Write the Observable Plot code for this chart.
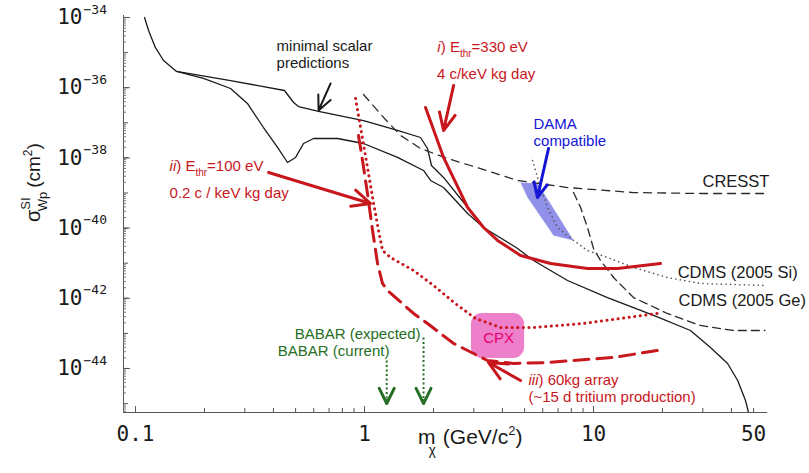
<!DOCTYPE html>
<html><head><meta charset="utf-8">
<script src="https://cdn.jsdelivr.net/npm/d3@7"></script>
<script src="https://cdn.jsdelivr.net/npm/@observablehq/plot@0.6"></script>
<style>body{margin:0;background:#fff;} svg{display:block}</style>
</head><body><div id="chart"></div>
<script>
// ---- data (mass in GeV/c^2, cross-section in cm^2) ----
const massUpper = [0.1095, 0.114, 0.122, 0.1325, 0.151, 0.26, 0.447, 0.49, 0.515, 0.63, 0.99, 1.393, 1.756, 1.884, 1.96, 2.213, 2.82, 3.31, 4.66, 5.47, 7.70, 11.5, 18.3, 26.5, 32.4, 38.5, 42.6, 46.1, 47.5];
const sigmaUpper = [1e-34, 4.27e-35, 1.40e-35, 5.96e-36, 2.90e-36, 1.60e-36, 8.32e-37, 3.79e-37, 2.91e-37, 2.10e-37, 1.16e-37, 6.04e-38, 3.81e-38, 1.85e-38, 6.07e-39, 2.77e-39, 3.86e-40, 1.04e-40, 2.62e-41, 1.19e-41, 3.21e-42, 1.05e-42, 3.24e-43, 1.21e-43, 3.97e-44, 1.39e-44, 4.55e-45, 1.22e-45, 5.57e-46];
const massLower = [0.151, 0.198, 0.26, 0.308, 0.362, 0.417, 0.461, 0.50, 0.5415, 0.599, 0.762, 0.99, 1.393, 1.81, 1.942, 2.213, 2.82, 3.31];
const sigmaLower = [2.90e-36, 1.83e-36, 9.48e-37, 3.55e-37, 7.34e-38, 1.98e-38, 7.39e-39, 1.03e-38, 2.57e-38, 3.57e-38, 3.57e-38, 2.57e-38, 1.03e-38, 4.38e-39, 2.27e-39, 1.43e-39, 2.61e-40, 1.04e-40];
const massCresst = [0.99, 1.211, 1.437, 1.756, 2.304, 2.904, 4.66, 7.70, 14.95, 29.3, 56];
const sigmaCresst = [6.39e-37, 1.42e-37, 4.35e-38, 1.85e-38, 9.61e-39, 6.07e-39, 2.27e-39, 1.43e-39, 1.03e-39, 9.68e-40, 9.68e-40];
const massSi = [5.415, 5.87, 6.30, 6.96, 8.18, 9.41, 11.5, 14.95, 21.0, 29.3, 56];
const sigmaSi = [8.43e-39, 1.43e-39, 3.86e-40, 1.04e-40, 4.44e-41, 2.30e-41, 1.45e-41, 7.54e-42, 3.91e-42, 2.64e-42, 2.32e-42];
const massGe = [8.18, 8.78, 9.41, 10.0, 10.73, 12.23, 14.95, 21.0, 29.3, 40.8, 56];
const sigmaGe = [1.03e-39, 3.86e-40, 1.04e-40, 2.62e-41, 1.19e-41, 3.91e-42, 1.05e-42, 3.69e-43, 1.68e-43, 1.21e-43, 1.21e-43];
const massDama = [4.80, 5.69, 6.36, 8.18, 6.69, 5.15];
const sigmaDama = [1.99e-39, 1.87e-39, 6.11e-40, 4.44e-41, 6.15e-41, 7.45e-40];
const massI = [1.847, 2.213, 2.82, 3.31, 3.81, 4.80, 6.49, 9.41, 12.73, 19.6];
const sigmaI = [2.73e-37, 1.03e-38, 3.86e-40, 1.04e-40, 4.44e-41, 1.66e-41, 9.79e-42, 7.06e-42, 7.06e-42, 9.79e-42];
const massII = [0.9135, 0.961, 1.03, 1.095, 1.151, 1.198, 1.30, 1.637, 2.0, 2.49, 3.05, 3.93, 5.47, 9.04, 19.0];
const sigmaII = [4.92e-37, 7.34e-38, 5.32e-39, 5.02e-40, 8.55e-41, 2.30e-41, 1.45e-41, 6.19e-42, 2.32e-42, 7.11e-43, 2.66e-43, 1.47e-43, 1.47e-43, 1.91e-43, 3.69e-43];
const massIII = [0.941, 0.98, 1.03, 1.084, 1.14, 1.198, 1.26, 1.637, 1.884, 2.45, 3.44, 4.47, 6.30, 12.23, 19.0];
const sigmaIII = [4.35e-38, 8.43e-39, 9.68e-40, 8.55e-41, 9.79e-42, 2.64e-42, 1.67e-42, 3.69e-43, 1.91e-43, 5.15e-44, 1.69e-44, 1.39e-44, 1.48e-44, 2.06e-44, 3.26e-44];
const cpxMass = [2.93, 5.0];
const cpxSigma = [1.93e-44, 3.69e-43];
const babarMass = [1.25, 1.81];
const babarFrom = [1.69e-44, 7.64e-44];
const babarTip = [1.0e-45, 1.0e-45];

// annotation arrows: [black, red i, red ii, red iii, blue DAMA]
const arrowX1 = [0.711, 2.45, 0.381, 4.80, 6.36];
const arrowY1 = [1.32e-36, 1.16e-36, 3.84e-39, 4.55e-45, 1.85e-38];
const arrowX2 = [0.63, 2.213, 1.062, 3.48, 5.69];
const arrowY2 = [2.24e-37, 6.04e-38, 5.02e-40, 1.48e-44, 7.45e-40];
const arrowColor = ["#1a1a1a", "#c8161d", "#c8161d", "#c8161d", "#1515d6"];
const arrowWidth = [2, 3, 3, 3, 3];
const arrowHead = [16, 19, 20, 20, 16];

// annotation labels
const annoText = ["minimal scalar", "predictions", "i) E_thr=330 eV", "4 c/keV kg day", "ii) E_thr=100 eV", "0.2 c / keV kg day", "DAMA", "compatible", "iii) 60kg array", "(~15 d tritium production)"];
const annoMass = [0.413, 0.413, 2.08, 2.07, 0.1408, 0.1408, 5.47, 5.47, 5.20, 5.20];
const annoSigma = [1.49e-35, 5.06e-36, 1.40e-35, 2.38e-36, 5.69e-39, 9.68e-40, 8.95e-38, 2.93e-38, 4.55e-45, 1.55e-45];
const annoColor = ["#1a1a1a", "#1a1a1a", "#c8161d", "#c8161d", "#c8161d", "#c8161d", "#1515d6", "#1515d6", "#c8161d", "#c8161d"];
const seriesText = ["CRESST", "CDMS (2005 Si)", "CDMS (2005 Ge)"];
const seriesMass = [29.9, 23.3, 23.5];
const seriesSigma = [2.06e-39, 5.43e-42, 8.65e-43];
const babarText = ["BABAR (expected)", "BABAR (current)"];
const babarTextMass = [1.756, 1.285];
const babarTextSigma = [9.31e-44, 3.05e-44];
const cpxText = ["CPX"];
const cpxTextMass = [3.85];
const cpxTextSigma = [7.16e-44];

// ticks
const xTickLabels = [0.1, 1, 10, 50];
const yTickLabels = [1e-34, 1e-36, 1e-38, 1e-40, 1e-42, 1e-44];
const yTickExp = ["−34", "−36", "−38", "−40", "−42", "−44"];

const xDomain = [0.0886, 57.5];
const yDomain = [5.57e-46, 1.14e-34];

// ---- layout ----
const W = 809, H = 473, mL = 123, mR = 42, mT = 15, mB = 61;
const innerW = W - mL - mR, innerH = H - mT - mB;
const RED = "#c8161d", GREEN = "#266e26", INK = "#1a1a1a";
const SANS = "Liberation Sans, Arial, Helvetica, sans-serif";
const MONO = "DejaVu Sans Mono, monospace";

const pts = (xs, ys) => xs.map((x, i) => ({x, y: ys[i]}));
const idx = a => a.map((_, i) => i);

const sx = Plot.scale({x: {type: "log", domain: xDomain, range: [mL, W - mR]}});
const sy = Plot.scale({y: {type: "log", domain: yDomain, range: [H - mB, mT]}});

// arrow whose head keeps the wanted pixel size (Plot caps the head at a third of the line)
function arrowMark(x1, y1, x2, y2, stroke, sw, headPx, angle, shaftPx) {
  const L = Math.hypot(sx.apply(x2) - sx.apply(x1), sy.apply(y2) - sy.apply(y1));
  const f = Math.max(1, 3 * headPx / L + 0.02);
  const xs = x2 * Math.pow(x1 / x2, f), ys = y2 * Math.pow(y1 / y2, f);
  const visible = shaftPx == null ? L : shaftPx;
  return Plot.arrow([0], {x1: () => xs, y1: () => ys, x2: () => x2, y2: () => y2,
    stroke, strokeWidth: sw, headLength: headPx * 1.5 / sw, headAngle: angle, insetStart: L * f - visible});
}

// minor/major tick positions
const xMinor = [], xMajor = [0.1, 1, 10];
for (const d of [0.1, 1, 10]) for (let k = 2; k <= 9; k++) { const v = k * d; if (v <= xDomain[1]) xMinor.push(v); }
const yDecades = [], yMinor = [];
for (let e = -46; e <= -34; e++) {
  if (e >= -45) yDecades.push(Math.pow(10, e));
  for (let k = 2; k <= 9; k++) { const v = k * Math.pow(10, e); if (v >= yDomain[0] && v <= yDomain[1]) yMinor.push(v); }
}

const plot = Plot.plot({
  width: W, height: H,
  marginLeft: mL, marginRight: mR, marginTop: mT, marginBottom: mB,
  x: {type: "log", domain: xDomain, axis: null},
  y: {type: "log", domain: yDomain, axis: null},
  color: {type: "identity"},
  style: {fontFamily: SANS, background: "white", overflow: "visible"},
  marks: [
    // axis lines
    Plot.ruleX([xDomain[0]], {stroke: "#555", strokeWidth: 1}),
    Plot.ruleY([yDomain[0]], {stroke: "#555", strokeWidth: 1}),
    // x ticks (inward)
    Plot.tickX(xMajor, {x: d => d, stroke: "#555", insetTop: innerH - 6}),
    Plot.tickX(xMinor, {x: d => d, stroke: "#555", insetTop: innerH - 4}),
    // y ticks (inward)
    Plot.tickY(yTickLabels, {y: d => d, stroke: "#555", insetRight: innerW - 7}),
    Plot.tickY(yDecades, {y: d => d, stroke: "#555", insetRight: innerW - 5}),
    Plot.tickY(yMinor, {y: d => d, stroke: "#777", insetRight: innerW - 3}),
    // tick labels
    Plot.text(xTickLabels, {x: d => d, text: d => String(d), frameAnchor: "bottom", dy: 28, fontSize: 21, fontFamily: MONO, fill: INK}),
    Plot.text(yTickLabels, {y: d => d, text: () => "10", frameAnchor: "left", textAnchor: "end", dx: -41, fontSize: 21, fontFamily: MONO, fill: INK}),
    Plot.text(idx(yTickLabels), {y: i => yTickLabels[i], text: i => yTickExp[i], frameAnchor: "left", textAnchor: "start", dx: -40, dy: -8, fontSize: 13, fontFamily: MONO, fill: INK}),

    // DAMA region
    Plot.line(pts(massDama, sigmaDama), {x: "x", y: "y", fill: "#8a8ae8", fillOpacity: 0.95, stroke: "none", curve: "linear-closed"}),
    // CPX box
    Plot.rect([0], {x1: () => cpxMass[0], x2: () => cpxMass[1], y1: () => cpxSigma[0], y2: () => cpxSigma[1], fill: "#ee7fcb", rx: 11}),

    // black curves
    Plot.line(pts(massUpper, sigmaUpper), {x: "x", y: "y", stroke: INK, strokeWidth: 1.3, clip: true}),
    Plot.line(pts(massLower, sigmaLower), {x: "x", y: "y", stroke: INK, strokeWidth: 1.3, clip: true}),
    Plot.line(pts(massCresst, sigmaCresst), {x: "x", y: "y", stroke: "#2a2a2a", strokeWidth: 1.3, strokeDasharray: "8,6"}),
    Plot.line(pts(massGe, sigmaGe), {x: "x", y: "y", stroke: "#2a2a2a", strokeWidth: 1.3, strokeDasharray: "8,5"}),
    Plot.line(pts(massSi, sigmaSi), {x: "x", y: "y", stroke: "#555", strokeWidth: 1.6, strokeDasharray: "0.1,4.5", strokeLinecap: "round"}),

    // red projections
    Plot.line(pts(massI, sigmaI), {x: "x", y: "y", stroke: RED, strokeWidth: 3}),
    Plot.line(pts(massII, sigmaII), {x: "x", y: "y", stroke: RED, strokeWidth: 3, strokeDasharray: "0.1,5.5", strokeLinecap: "round"}),
    Plot.line(pts(massIII, sigmaIII), {x: "x", y: "y", stroke: RED, strokeWidth: 3, strokeDasharray: "15,8"}),

    // BABAR arrows: dotted shaft + solid head
    Plot.link(idx(babarMass), {x1: i => babarMass[i], x2: i => babarMass[i], y1: i => babarFrom[i], y2: i => babarTip[i], stroke: GREEN, strokeWidth: 2, strokeDasharray: "2,2.5"}),
    ...babarMass.map((m, i) => arrowMark(m, babarFrom[i], m, babarTip[i], GREEN, 3, 17, 52, 3)),

    // annotation arrows
    ...arrowX1.map((x, i) => arrowMark(x, arrowY1[i], arrowX2[i], arrowY2[i], arrowColor[i], arrowWidth[i], arrowHead[i], 50)),

    // texts
    Plot.text(idx(annoText), {x: i => annoMass[i], y: i => annoSigma[i], text: i => annoText[i], fill: i => annoColor[i], textAnchor: "start", fontSize: 15}),
    Plot.text(idx(seriesText), {x: i => seriesMass[i], y: i => seriesSigma[i], text: i => seriesText[i], fill: INK, textAnchor: "start", fontSize: 16.5}),
    Plot.text(idx(babarText), {x: i => babarTextMass[i], y: i => babarTextSigma[i], text: i => babarText[i], fill: GREEN, textAnchor: "end", fontSize: 15}),
    Plot.text(idx(cpxText), {x: i => cpxTextMass[i], y: i => cpxTextSigma[i], text: i => cpxText[i], fill: "#e4006e", textAnchor: "middle", fontSize: 15})
  ]
});

// rich-text replacements (italic numerals, subscripts)
const rich = {
  "i) E_thr=330 eV": '<tspan font-style="italic">i</tspan>) E<tspan font-size="10" dy="5">thr</tspan><tspan dy="-5">=330 eV</tspan>',
  "ii) E_thr=100 eV": '<tspan font-style="italic">ii</tspan>) E<tspan font-size="10" dy="5">thr</tspan><tspan dy="-5">=100 eV</tspan>',
  "iii) 60kg array": '<tspan font-style="italic">iii</tspan>) 60kg array'
};
d3.select(plot).selectAll("text").each(function () {
  const t = this.textContent;
  if (rich[t]) this.innerHTML = rich[t];
});

// axis titles
const svg = d3.select(plot);
svg.append("g").attr("font-family", SANS).attr("fill", INK).attr("text-anchor", "start").html(
  '<text x="418" y="444" font-size="21">m<tspan font-size="14" dx="-7" dy="11">χ</tspan><tspan dx="7" dy="-11">(GeV/c</tspan><tspan font-size="13" dy="-9">2</tspan><tspan dy="9">)</tspan></text>' +
  '<text transform="translate(40,222) rotate(-90)" font-size="20">σ<tspan font-size="13" dy="-10">SI</tspan><tspan font-size="13" dx="-14" dy="17">Wp</tspan><tspan dx="4" dy="-7" font-size="19">(cm</tspan><tspan font-size="12" dy="-8">2</tspan><tspan font-size="19" dy="8">)</tspan></text>'
);

document.getElementById("chart").appendChild(plot);
</script>
</body></html>
